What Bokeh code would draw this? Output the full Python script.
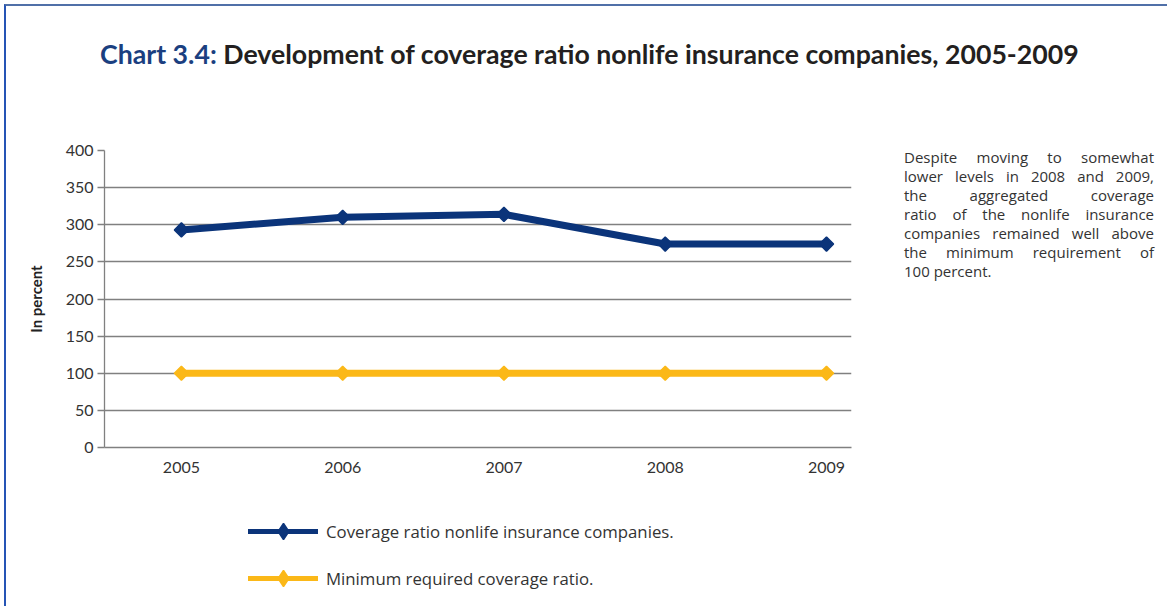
from bokeh.plotting import figure
from bokeh.models import (Range1d, FixedTicker, Legend, LegendItem, Div,
                          ColumnDataSource)
from bokeh.layouts import column, row
from bokeh.embed import file_html
from bokeh.resources import INLINE

# ---- data ----
years = [2005, 2006, 2007, 2008, 2009]
coverage_ratio = [293, 310, 314, 274, 274]
minimum_required = [100, 100, 100, 100, 100]
y_ticks = [0, 50, 100, 150, 200, 250, 300, 350, 400]
series_names = ["Coverage ratio nonlife insurance companies.",
                "Minimum required coverage ratio."]
title_prefix = "Chart 3.4:"
title_rest = "Development of coverage ratio nonlife insurance companies, 2005-2009"
y_label = "In percent"
note_lines = [
    "Despite moving to somewhat",
    "lower levels in 2008 and 2009,",
    "the aggregated coverage",
    "ratio of the nonlife insurance",
    "companies remained well above",
    "the minimum requirement of",
    "100 percent.",
]

BLUE = "#0b347a"
YELLOW = "#fbb818"
GRID = "#808080"
TEXT = "#333333"
FONT = "Lato"
BODY_FONT = "Open Sans"

LINE_STYLE = dict(line_width=7)
MARK_STYLE = dict(marker="square", angle=0.7854, size=10, line_width=1.5)
KEY_LINE_STYLE = dict(line_width=5, line_cap="round")
KEY_MARK_STYLE = dict(marker="diamond", size=16, line_width=1.5)

# ---------------- main chart ----------------
p = figure(width=855, height=337, output_backend="svg", toolbar_location=None,
           x_range=Range1d(2004.523, 2009.155), y_range=Range1d(0, 400),
           min_border_left=98, min_border_right=10,
           min_border_top=10, min_border_bottom=30)
p.frame_width = 747
p.frame_height = 297
p.outline_line_color = None
p.background_fill_color = "white"
p.border_fill_color = "white"

p.xaxis.ticker = FixedTicker(ticks=years)
p.yaxis.ticker = FixedTicker(ticks=y_ticks)
p.xgrid.grid_line_color = None
p.ygrid.grid_line_color = GRID
p.ygrid.grid_line_width = 1.3
for ax in (p.xaxis, p.yaxis):
    ax.axis_line_color = GRID
    ax.axis_line_width = 1.3
    ax.major_label_text_font = FONT
    ax.major_label_text_font_size = "16px"
    ax.major_label_text_color = TEXT
    ax.minor_tick_line_color = None
p.xaxis.major_tick_line_color = None
p.xaxis.major_label_standoff = 8
p.yaxis.major_tick_line_color = GRID
p.yaxis.major_tick_line_width = 1.3
p.yaxis.major_tick_in = 0
p.yaxis.major_tick_out = 7
p.yaxis.major_label_standoff = 4
p.yaxis.axis_label = y_label
p.yaxis.axis_label_text_font = FONT
p.yaxis.axis_label_text_font_style = "bold"
p.yaxis.axis_label_text_font_size = "15px"
p.yaxis.axis_label_text_color = "#222222"
p.yaxis.axis_label_standoff = 18

src = ColumnDataSource(dict(x=years, cov=coverage_ratio, mn=minimum_required))
p.line("x", "cov", source=src, line_color=BLUE, **LINE_STYLE)
p.scatter("x", "cov", source=src, fill_color=BLUE, line_color=BLUE, **MARK_STYLE)
p.line("x", "mn", source=src, line_color=YELLOW, **LINE_STYLE)
p.scatter("x", "mn", source=src, fill_color=YELLOW, line_color=YELLOW, **MARK_STYLE)

# ---------------- legend strip (below the chart) ----------------
# same series, in a strip whose ranges keep the marks out of view;
# only its legend is shown
lg = figure(width=855, height=129, output_backend="svg", toolbar_location=None,
            x_range=Range1d(0, 1), y_range=Range1d(0, 1),
            x_axis_type=None, y_axis_type=None, min_border=0)
lg.outline_line_color = None
lg.grid.visible = False
k1 = lg.line("x", "cov", source=src, line_color=BLUE, **KEY_LINE_STYLE)
m1 = lg.scatter("x", "cov", source=src, fill_color=BLUE, line_color=BLUE, **KEY_MARK_STYLE)
k2 = lg.line("x", "mn", source=src, line_color=YELLOW, **KEY_LINE_STYLE)
m2 = lg.scatter("x", "mn", source=src, fill_color=YELLOW, line_color=YELLOW, **KEY_MARK_STYLE)
legend = Legend(items=[LegendItem(label=series_names[0], renderers=[k1, m1]),
                       LegendItem(label=series_names[1], renderers=[k2, m2])],
                location=(144, 8), glyph_width=70, glyph_height=40,
                label_standoff=8, spacing=7, padding=0, margin=0,
                border_line_color=None, background_fill_alpha=0,
                label_text_font=BODY_FONT, label_text_font_size="16.8px",
                label_text_color=TEXT)
lg.add_layout(legend)

# ---------------- texts ----------------
title_div = Div(
    text=(f'<div style="font-family: Lato; font-weight: bold; font-size: 26.7px; '
          f'line-height: 32px; color: #231f20; white-space: nowrap; '
          f'padding: 32px 0 0 94px;">'
          f'<span style="color: #1b3f80;">{title_prefix}</span> {title_rest}</div>'),
    width=1161, height=134, margin=0)

para_html = ""
for i, line in enumerate(note_lines):
    last = i == len(note_lines) - 1
    align = "left" if last else "justify"
    para_html += (f'<div style="text-align: {align}; text-align-last: {align}; '
                  f'width: 250px; white-space: nowrap;">{line}</div>')
para_div = Div(
    text=(f'<div style="font-family: {BODY_FONT}; font-size: 15px; line-height: 19px; '
          f'color: {TEXT}; padding: 8px 0 0 43px;">{para_html}</div>'),
    width=306, height=466, margin=0)

root = column(title_div,
              row(column(p, lg, margin=0), para_div, margin=0),
              margin=(4, 0, 0, 4),
              styles={"border-top": "2px solid #5070a8",
                      "border-left": "2px solid #2554b5"})

open("out.html", "w").write(file_html(root, INLINE))
